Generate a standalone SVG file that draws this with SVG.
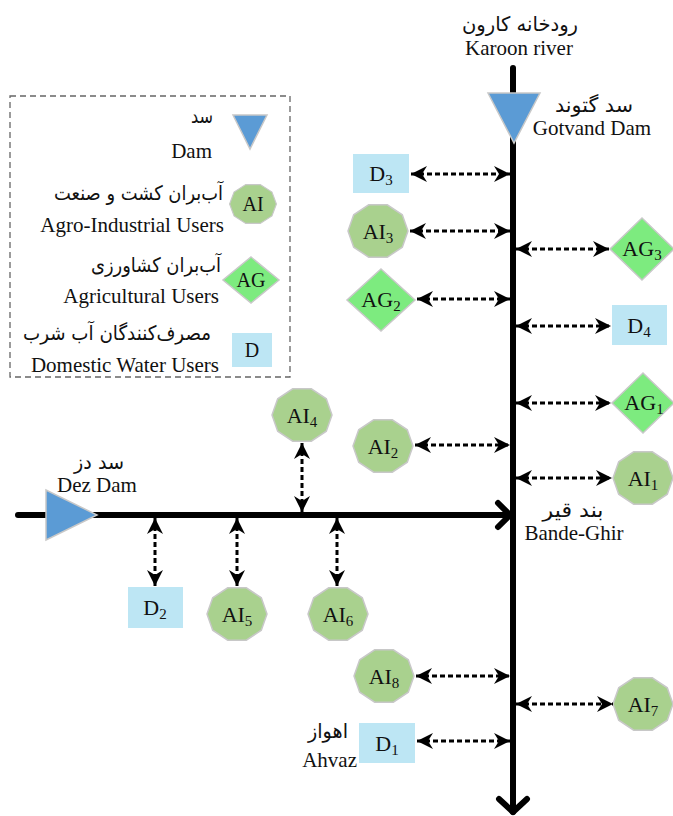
<svg xmlns="http://www.w3.org/2000/svg" xmlns:xlink="http://www.w3.org/1999/xlink" width="673" height="816" viewBox="0 0 673 816">
<style>
  .en{font-family:"Liberation Serif","Times New Roman",serif;font-size:21px;fill:#111}
  .fa{font-family:"DejaVu Sans","Noto Sans",sans-serif;font-size:20px;fill:#111}
  .lbl{font-family:"Liberation Serif","Times New Roman",serif;font-size:22px;fill:#111;text-anchor:middle}
  .sub{font-size:15px}
  .ai{fill:#A9D18E;stroke:#c8c8c8;stroke-width:1.5}
  .ag{fill:#7DEB7F;stroke:#c8c8c8;stroke-width:1.5}
  .d{fill:#BDE6F4}
  .dam{fill:#5B9BD5;stroke:#c8c8c8;stroke-width:1.5}
  .river{stroke:#000;stroke-width:6;fill:none;stroke-linecap:round;stroke-linejoin:round}
  .link{stroke:#000;stroke-width:3;stroke-dasharray:5 3;fill:none;marker-start:url(#ah);marker-end:url(#ah)}
</style>
<defs>
  <marker id="ah" viewBox="0 0 16 16" refX="16" refY="8" markerWidth="16" markerHeight="16" markerUnits="userSpaceOnUse" orient="auto-start-reverse">
    <path d="M0,0 L16,8 L0,16 L5,8 Z" fill="#000"/>
  </marker>
  <polygon id="deca" points="30,0 24.3,16.2 9.3,26.2 -9.3,26.2 -24.3,16.2 -30,0 -24.3,-16.2 -9.3,-26.2 9.3,-26.2 24.3,-16.2"/>
</defs>

<!-- Legend -->
<g id="legend">
  <rect x="10" y="96" width="280" height="281" fill="none" stroke="#666" stroke-width="1.3" stroke-dasharray="6 4"/>
  <polygon class="dam" points="233,115 267,115 250,149"/>
  <text class="fa" x="213" y="123" text-anchor="end" textLength="22" lengthAdjust="spacingAndGlyphs">سد</text>
  <text class="en" x="212" y="158" text-anchor="end">Dam</text>
  <use xlink:href="#deca" class="ai" transform="translate(253,204) scale(0.78,0.74)"/>
  <text class="lbl" x="253" y="211" style="font-size:20px">AI</text>
  <text class="fa" x="223" y="200" text-anchor="end" textLength="169" lengthAdjust="spacingAndGlyphs">آب‌بران کشت و صنعت</text>
  <text class="en" x="224" y="232" text-anchor="end">Agro-Industrial Users</text>
  <polygon class="ag" points="251,257 279,280 251,303 223,280"/>
  <text class="lbl" x="251" y="287" style="font-size:20px">AG</text>
  <text class="fa" x="221" y="272" text-anchor="end" textLength="130" lengthAdjust="spacingAndGlyphs">آب‌بران کشاورزی</text>
  <text class="en" x="219" y="303" text-anchor="end">Agricultural Users</text>
  <rect class="d" x="232" y="333" width="40" height="34"/>
  <text class="lbl" x="252" y="357" style="font-size:20px">D</text>
  <text class="fa" x="211" y="340" text-anchor="end" textLength="188" lengthAdjust="spacingAndGlyphs">مصرف‌کنندگان آب شرب</text>
  <text class="en" x="219" y="372" text-anchor="end">Domestic Water Users</text>
</g>

<!-- Rivers -->
<g id="rivers">
  <line class="river" x1="513" y1="68" x2="513" y2="812"/>
  <polyline class="river" points="499,799 513,812 527,799"/>
  <line class="river" x1="18" y1="515" x2="510" y2="515"/>
  <polyline class="river" points="498,503 510,515 498,527"/>
</g>

<!-- Labels on rivers -->
<g id="karoon">
  <text class="fa" x="520" y="31" text-anchor="middle" textLength="116" lengthAdjust="spacingAndGlyphs">رودخانه کارون</text>
  <text class="en" x="519" y="55" text-anchor="middle">Karoon river</text>
</g>
<g id="gotvand">
  <polygon class="dam" points="488,93 540,93 514,143"/>
  <text class="fa" x="594" y="112" text-anchor="middle" textLength="78" lengthAdjust="spacingAndGlyphs">سد گتوند</text>
  <text class="en" x="592" y="135" text-anchor="middle">Gotvand Dam</text>
</g>
<g id="dez">
  <polygon class="dam" points="46,490 46,540 97,515"/>
  <text class="fa" x="99" y="469" text-anchor="middle" textLength="50" lengthAdjust="spacingAndGlyphs">سد دز</text>
  <text class="en" x="97" y="492" text-anchor="middle">Dez Dam</text>
</g>
<g id="bandeghir">
  <text class="fa" x="573" y="517" text-anchor="middle" textLength="61" lengthAdjust="spacingAndGlyphs">بند قیر</text>
  <text class="en" x="574" y="540" text-anchor="middle">Bande-Ghir</text>
</g>
<g id="ahvaz">
  <text class="fa" x="348" y="738" text-anchor="end" textLength="40" lengthAdjust="spacingAndGlyphs">اهواز</text>
  <text class="en" x="357" y="767" text-anchor="end">Ahvaz</text>
</g>

<!-- Nodes -->
<g id="D3"><rect class="d" x="353" y="154" width="56" height="39"/><text class="lbl" x="381" y="181">D<tspan class="sub" dy="4">3</tspan></text></g>
<g id="AI3"><use xlink:href="#deca" class="ai" x="378" y="231"/><text class="lbl" x="378" y="239">AI<tspan class="sub" dy="4">3</tspan></text></g>
<g id="AG3"><polygon class="ag" points="642,218 674,249 642,280 610,249"/><text class="lbl" x="642" y="256">AG<tspan class="sub" dy="4">3</tspan></text></g>
<g id="AG2"><polygon class="ag" points="381,269 415,300 381,331 347,300"/><text class="lbl" x="381" y="307">AG<tspan class="sub" dy="4">2</tspan></text></g>
<g id="D4"><rect class="d" x="612" y="305" width="55" height="40"/><text class="lbl" x="639" y="333">D<tspan class="sub" dy="4">4</tspan></text></g>
<g id="AG1"><polygon class="ag" points="643,373 674,403 643,433 612,403"/><text class="lbl" x="644" y="410">AG<tspan class="sub" dy="4">1</tspan></text></g>
<g id="AI2"><use xlink:href="#deca" class="ai" x="383" y="446"/><text class="lbl" x="383" y="454">AI<tspan class="sub" dy="4">2</tspan></text></g>
<g id="AI1"><use xlink:href="#deca" class="ai" x="643" y="478"/><text class="lbl" x="643" y="486">AI<tspan class="sub" dy="4">1</tspan></text></g>
<g id="AI4"><use xlink:href="#deca" class="ai" x="302" y="415"/><text class="lbl" x="302" y="423">AI<tspan class="sub" dy="4">4</tspan></text></g>
<g id="D2"><rect class="d" x="128" y="587" width="55" height="41"/><text class="lbl" x="155" y="615">D<tspan class="sub" dy="4">2</tspan></text></g>
<g id="AI5"><use xlink:href="#deca" class="ai" x="237" y="614"/><text class="lbl" x="237" y="622">AI<tspan class="sub" dy="4">5</tspan></text></g>
<g id="AI6"><use xlink:href="#deca" class="ai" x="338" y="614"/><text class="lbl" x="338" y="622">AI<tspan class="sub" dy="4">6</tspan></text></g>
<g id="AI8"><use xlink:href="#deca" class="ai" x="384" y="676"/><text class="lbl" x="384" y="684">AI<tspan class="sub" dy="4">8</tspan></text></g>
<g id="AI7"><use xlink:href="#deca" class="ai" x="643" y="704"/><text class="lbl" x="643" y="712">AI<tspan class="sub" dy="4">7</tspan></text></g>
<g id="D1"><rect class="d" x="359" y="723" width="56" height="40"/><text class="lbl" x="387" y="751">D<tspan class="sub" dy="4">1</tspan></text></g>

<!-- Connectors -->
<g id="connectors">
  <line class="link" x1="411" y1="174" x2="510" y2="174"/>
  <line class="link" x1="410" y1="231" x2="510" y2="231"/>
  <line class="link" x1="417" y1="299" x2="510" y2="299"/>
  <line class="link" x1="415" y1="445" x2="510" y2="445"/>
  <line class="link" x1="416" y1="676" x2="510" y2="676"/>
  <line class="link" x1="417" y1="741" x2="510" y2="741"/>
  <line class="link" x1="516" y1="249" x2="609" y2="249"/>
  <line class="link" x1="516" y1="326" x2="611" y2="326"/>
  <line class="link" x1="516" y1="403" x2="611" y2="403"/>
  <line class="link" x1="516" y1="478" x2="612" y2="478"/>
  <line class="link" x1="516" y1="704" x2="613" y2="704"/>
  <line class="link" x1="302" y1="443" x2="302" y2="512"/>
  <line class="link" x1="155" y1="518" x2="155" y2="586"/>
  <line class="link" x1="237" y1="518" x2="237" y2="586"/>
  <line class="link" x1="337" y1="518" x2="337" y2="586"/>
</g>
</svg>
